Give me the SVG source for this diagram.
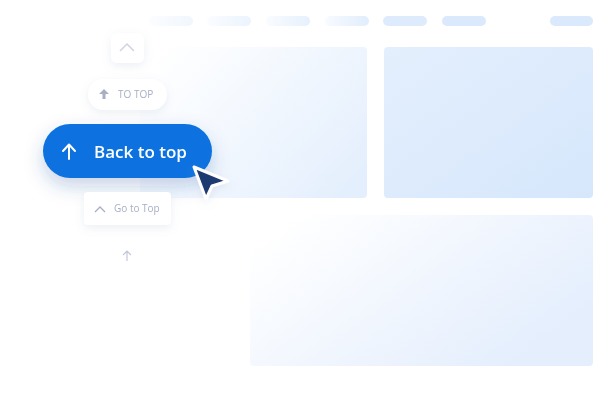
<svg xmlns="http://www.w3.org/2000/svg" width="608" height="401" viewBox="0 0 608 401">
<defs>
<linearGradient id="gp" x1="0" y1="0" x2="1" y2="0"><stop offset="0" stop-color="#f7faff"/><stop offset="1" stop-color="#dbeafc"/></linearGradient>
<linearGradient id="g1" x1="0" y1="0.2" x2="1" y2="0.8"><stop offset="0" stop-color="#ffffff"/><stop offset="1" stop-color="#e4effd"/></linearGradient>
<linearGradient id="g2" x1="0" y1="0" x2="1" y2="1"><stop offset="0" stop-color="#e4effd"/><stop offset="1" stop-color="#d6e7fc"/></linearGradient>
<linearGradient id="g3" x1="0" y1="0" x2="1" y2="0.6"><stop offset="0.1" stop-color="#ffffff"/><stop offset="1" stop-color="#e4eefd"/></linearGradient>
<filter id="sh" x="-30%" y="-50%" width="160%" height="220%"><feDropShadow dx="0" dy="8" stdDeviation="9" flood-color="#1a4b9c" flood-opacity="0.25"/></filter>
<filter id="sl" x="-30%" y="-50%" width="160%" height="200%"><feDropShadow dx="0" dy="3" stdDeviation="4" flood-color="#8090b0" flood-opacity="0.15"/></filter>
<style>.t{font-family:"Open Sans","Liberation Sans",sans-serif}.g{fill:#a8aec4}</style>
</defs>
<rect width="608" height="401" fill="#fff"/>
<g id="nav" fill="url(#gp)">
<rect x="149" y="16" width="44" height="10" rx="5" opacity="0.4"/>
<rect x="207" y="16" width="44" height="10" rx="5" opacity="0.55"/>
<rect x="266" y="16" width="44" height="10" rx="5" opacity="0.7"/>
<rect x="325" y="16" width="44" height="10" rx="5" opacity="0.85"/>
<rect x="383" y="16" width="44" height="10" rx="5" fill="#deebfc"/>
<rect x="442" y="16" width="44" height="10" rx="5" fill="#dbe9fc"/>
<rect x="550" y="16" width="43" height="10" rx="5" fill="#dbe9fc"/>
</g>
<g id="panels">
<rect x="140" y="47" width="227" height="151" rx="4" fill="url(#g1)"/>
<rect x="384" y="47" width="209" height="151" rx="4" fill="url(#g2)"/>
<rect x="250" y="215" width="343" height="151" rx="4" fill="url(#g3)"/>
</g>
<g id="btn-chevron" filter="url(#sl)">
<rect x="111" y="33" width="33" height="30" rx="6" fill="#fff"/>
<path d="M120 51 L127 44 L134 51" fill="none" stroke="#d0d4e0" stroke-width="1.5"/>
</g>
<g id="btn-totop" filter="url(#sl)">
<rect x="88" y="79" width="79" height="31" rx="15.5" fill="#fff"/>
<path d="M104 89 L99 94 H102.5 V99 H105.5 V94 H109 Z" class="g"/>
<text x="118" y="98" class="t" font-size="10" fill="#a8aec4">TO TOP</text>
</g>
<g id="btn-back" filter="url(#sh)">
<rect x="43" y="124" width="169" height="54" rx="27" fill="#0a72e0"/>
<path d="M69 159 V145 M63 151 L69 144.5 L75 151" fill="none" stroke="#fff" stroke-width="2" stroke-linecap="round" stroke-linejoin="round"/>
<text x="94" y="158" class="t" font-size="17" font-weight="600" fill="#fff">Back to top</text>
</g>
<g id="cursor">
<path d="M194 167 L228 181 L212 186 L206 199 Z" fill="#1c3a70" stroke="#fff" stroke-width="3" stroke-linejoin="round" filter="url(#sl)"/>
</g>
<g id="btn-goto" filter="url(#sl)">
<rect x="84" y="192" width="87" height="33" rx="4" fill="#fff"/>
<path d="M95 212 L100 207 L105 212" fill="none" stroke="#a8aec4" stroke-width="1.3"/>
<text x="114" y="212" class="t" font-size="10" fill="#a8aec4">Go to Top</text>
</g>
<g id="btn-arrow">
<path d="M127 261 V251 M123 255 L127 251 L131 255" fill="none" stroke="#c4c9d8" stroke-width="1.2"/>
</g>
</svg>
